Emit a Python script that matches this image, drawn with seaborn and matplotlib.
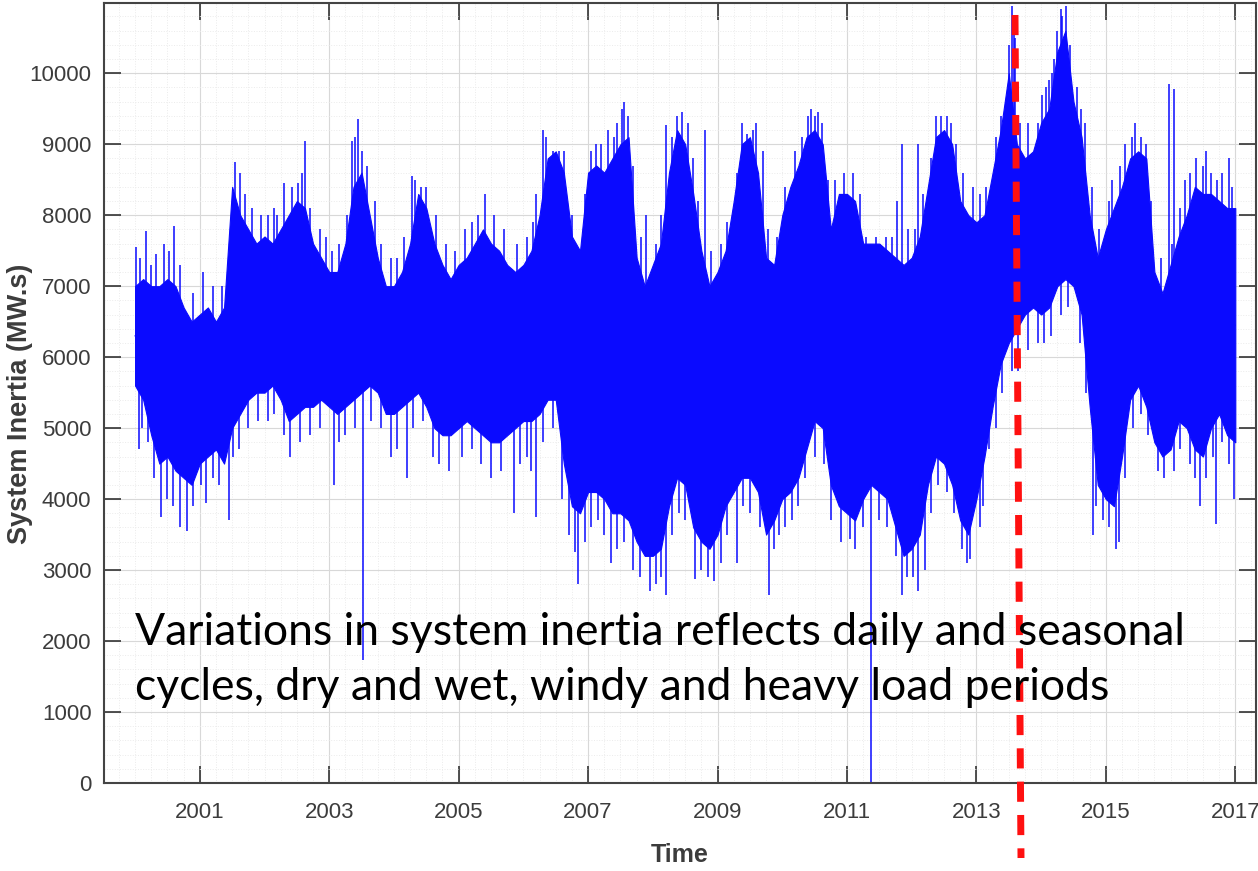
import numpy as np
import pandas as pd
import seaborn as sns
import matplotlib.pyplot as plt
from matplotlib import font_manager
from matplotlib.lines import Line2D

# envelope of the hourly series, read every 1/8 year (MW.s)
years = np.arange(2000, 2017.001, 0.125)
core_hi = [
    7000, 7100, 7000, 7000, 7100, 7000, 6700, 6500,   # 2000
    6600, 6700, 6500, 6700, 8400, 8000, 7800, 7600,   # 2001
    7700, 7600, 7800, 8000, 8200, 8100, 7600, 7400,   # 2002
    7200, 7200, 7600, 8400, 8600, 8000, 7400, 7000,   # 2003
    7000, 7200, 7600, 8300, 8100, 7600, 7300, 7100,   # 2004
    7300, 7400, 7600, 7800, 7600, 7500, 7300, 7200,   # 2005
    7300, 7500, 8000, 8800, 8900, 8600, 7700, 7500,   # 2006
    8600, 8700, 8600, 8800, 9000, 9100, 7400, 7000,   # 2007
    7300, 7600, 8600, 9200, 9000, 8300, 7500, 7000,   # 2008
    7200, 7500, 8200, 9000, 9100, 8600, 7400, 7300,   # 2009
    8000, 8400, 8700, 9100, 9200, 9000, 7800, 8300,   # 2010
    8300, 8200, 7600, 7600, 7600, 7500, 7400, 7300,   # 2011
    7400, 7700, 8400, 9100, 9200, 9000, 8200, 8000,   # 2012
    7900, 8000, 8600, 9200, 10000, 9000, 8800, 8900,  # 2013
    9300, 9500, 10300, 10600, 9600, 9100, 8000, 7400, # 2014
    7800, 8100, 8400, 8800, 8900, 8800, 7200, 6900,   # 2015
    7300, 7700, 8000, 8400, 8300, 8300, 8200, 8100,   # 2016
    8100,                                             # 2017
]
core_lo = [
    5600, 5400, 4900, 4500, 4600, 4400, 4300, 4200,
    4500, 4600, 4700, 4500, 5000, 5200, 5400, 5500,
    5500, 5600, 5400, 5100, 5200, 5300, 5300, 5400,
    5300, 5200, 5300, 5400, 5500, 5600, 5500, 5200,
    5200, 5300, 5400, 5500, 5300, 5000, 4900, 4900,
    5000, 5100, 5000, 4900, 4800, 4800, 4900, 5000,
    5100, 5100, 5200, 5400, 5400, 4500, 3900, 3800,
    4100, 4100, 4000, 3800, 3800, 3700, 3400, 3200,
    3200, 3300, 3900, 4300, 4200, 3600, 3400, 3300,
    3500, 3900, 4100, 4300, 4300, 4100, 3500, 3700,
    4000, 4100, 4300, 4700, 5100, 5000, 4200, 3900,
    3800, 3700, 4000, 4200, 4100, 4000, 3600, 3200,
    3300, 3500, 4200, 4600, 4500, 4200, 3700, 3500,
    4000, 4600, 5300, 5900, 6200, 6400, 6600, 6700,
    6600, 6700, 7000, 7100, 7000, 6600, 5300, 4200,
    4000, 3900, 4600, 5400, 5600, 5300, 4800, 4600,
    4700, 5100, 5000, 4700, 4600, 5000, 5200, 4900,
    4800,
]

# single hours sticking out above the band
spike_up_x = [
    2000.02, 2000.08, 2000.17, 2000.25, 2000.33, 2000.45, 2000.52, 2000.6, 2000.7, 2000.9,
    2001.05, 2001.2, 2001.35, 2001.48, 2001.55, 2001.62, 2001.7, 2001.8, 2001.95,
    2002.05, 2002.15, 2002.2, 2002.3, 2002.42, 2002.52, 2002.58, 2002.63, 2002.7, 2002.85, 2002.95,
    2003.05, 2003.15, 2003.28, 2003.35, 2003.4, 2003.45, 2003.5, 2003.58, 2003.7, 2003.8, 2003.95,
    2004.05, 2004.15, 2004.28, 2004.33, 2004.42, 2004.5, 2004.65, 2004.8, 2004.95,
    2005.1, 2005.2, 2005.3, 2005.4, 2005.55, 2005.7, 2005.9,
    2006.05, 2006.15, 2006.2, 2006.3, 2006.35, 2006.45, 2006.55, 2006.62, 2006.75, 2006.95,
    2007.05, 2007.12, 2007.2, 2007.3, 2007.4, 2007.45, 2007.52, 2007.55, 2007.62, 2007.7, 2007.82, 2007.9,
    2008.05, 2008.12, 2008.2, 2008.3, 2008.38, 2008.45, 2008.55, 2008.62, 2008.7, 2008.8, 2008.9,
    2009.05, 2009.15, 2009.3, 2009.38, 2009.45, 2009.55, 2009.6, 2009.7, 2009.78, 2009.92,
    2010.05, 2010.2, 2010.3, 2010.4, 2010.45, 2010.5, 2010.55, 2010.62, 2010.7, 2010.82, 2010.95,
    2011.1, 2011.2, 2011.3, 2011.45, 2011.6, 2011.7, 2011.78, 2011.85, 2011.95,
    2012.05, 2012.1, 2012.18, 2012.3, 2012.38, 2012.45, 2012.55, 2012.6, 2012.68, 2012.8, 2012.95,
    2013.05, 2013.15, 2013.3, 2013.38, 2013.45, 2013.5, 2013.55, 2013.58, 2013.6, 2013.68, 2013.8, 2013.95,
    2014.02, 2014.07, 2014.12, 2014.17, 2014.2, 2014.25, 2014.3, 2014.33, 2014.38, 2014.45, 2014.55,
    2014.62, 2014.68, 2014.78, 2014.9,
    2015.05, 2015.1, 2015.22, 2015.3, 2015.4, 2015.45, 2015.55, 2015.62, 2015.7, 2015.85, 2015.98,
    2016.02, 2016.05, 2016.15, 2016.22, 2016.3, 2016.4, 2016.5, 2016.55, 2016.62, 2016.72, 2016.8,
    2016.9, 2016.95,
]
spike_up_y = [
    7550, 7400, 7780, 7300, 7450, 7600, 7500, 7850, 7300, 6900,
    7200, 7000, 7000, 7300, 8750, 8600, 8300, 8100, 8000,
    8000, 8100, 8000, 8450, 8400, 8450, 8600, 9050, 8100, 7800, 7700,
    7500, 7600, 8000, 9050, 9100, 9350, 8900, 8700, 8200, 7600, 7400,
    7400, 7700, 8550, 8500, 8400, 8400, 8000, 7600, 7500,
    7800, 7900, 8000, 8300, 8000, 7800, 7600,
    7700, 7900, 8300, 9200, 9100, 8900, 8900, 8900, 8000, 8300,
    8900, 9000, 9000, 9200, 9100, 9300, 9500, 9600, 9400, 8700, 7700, 8000,
    7600, 8000, 9270, 9100, 9400, 9450, 9300, 8800, 8200, 9200, 7500,
    7600, 7900, 8600, 9300, 9150, 9200, 9300, 8900, 7800, 7700,
    8400, 8900, 9100, 9400, 9500, 9400, 9450, 9300, 8500, 8500, 8600,
    8600, 8300, 7700, 7700, 7700, 7700, 8200, 9000, 7800,
    7800, 9000, 8300, 8800, 9400, 9400, 9400, 9300, 9000, 8600, 8400,
    8300, 8400, 9100, 9400, 9600, 10400, 10950, 10700, 10500, 9300, 9300, 9300,
    9700, 9800, 9900, 10000, 10200, 10600, 10900, 10800, 10950, 10400, 9800,
    9500, 9300, 8400, 7800,
    8200, 8500, 8700, 9000, 9100, 9300, 9100, 9000, 8200, 7400, 9850,
    7600, 9780, 8100, 8500, 8600, 8800, 8700, 8900, 8600, 8500, 8600,
    8800, 8400,
]
# single hours dropping below the band
spike_dn_x = [
    2000.06, 2000.1, 2000.2, 2000.3, 2000.4, 2000.5, 2000.58, 2000.7, 2000.8, 2000.9,
    2001.02, 2001.1, 2001.2, 2001.3, 2001.45, 2001.52, 2001.6, 2001.75, 2001.9,
    2002.05, 2002.15, 2002.3, 2002.4, 2002.55, 2002.7, 2002.85,
    2003.08, 2003.15, 2003.25, 2003.4, 2003.52, 2003.65, 2003.8, 2003.95,
    2004.05, 2004.2, 2004.3, 2004.45, 2004.6, 2004.7, 2004.85,
    2005.05, 2005.2, 2005.35, 2005.5, 2005.65, 2005.85, 2005.95,
    2006.05, 2006.12, 2006.2, 2006.3, 2006.45, 2006.6, 2006.7, 2006.8, 2006.85, 2006.95,
    2007.05, 2007.15, 2007.25, 2007.35, 2007.45, 2007.55, 2007.7, 2007.8, 2007.95,
    2008.05, 2008.12, 2008.2, 2008.3, 2008.4, 2008.5, 2008.65, 2008.75, 2008.85, 2008.95,
    2009.05, 2009.15, 2009.3, 2009.4, 2009.5, 2009.65, 2009.8, 2009.88, 2009.95,
    2010.05, 2010.15, 2010.25, 2010.35, 2010.5, 2010.65, 2010.75, 2010.9,
    2011.05, 2011.12, 2011.25, 2011.37, 2011.5, 2011.62, 2011.75, 2011.85, 2011.92,
    2012.02, 2012.1, 2012.2, 2012.3, 2012.4, 2012.55, 2012.65, 2012.78, 2012.85, 2012.9,
    2013.05, 2013.1, 2013.2, 2013.3, 2013.4, 2013.55, 2013.65, 2013.8, 2013.95,
    2014.05, 2014.15, 2014.3, 2014.42, 2014.6, 2014.7, 2014.8, 2014.85, 2014.95,
    2015.05, 2015.15, 2015.2, 2015.3, 2015.42, 2015.55, 2015.65, 2015.8, 2015.9,
    2016.05, 2016.15, 2016.3, 2016.38, 2016.45, 2016.55, 2016.65, 2016.7, 2016.8, 2016.9, 2016.98,
]
spike_dn_y = [
    4700, 5000, 4800, 4300, 3750, 4000, 3900, 3600, 3550, 3900,
    4200, 3950, 4300, 4200, 3700, 4600, 4700, 5000, 5100,
    5100, 5200, 4900, 4600, 4800, 4900, 5000,
    4200, 4800, 4900, 5000, 1730, 5100, 5000, 4600,
    4700, 4300, 5000, 5100, 4600, 4500, 4400,
    4600, 4700, 4500, 4300, 4400, 3800, 4500,
    4600, 4400, 3750, 4800, 5000, 4000, 3500, 3250, 2800, 3400,
    3600, 3700, 3500, 3100, 3300, 3400, 3000, 2900, 2700,
    2800, 2900, 2650, 3500, 3800, 3700, 2880, 3000, 2900, 2850,
    3100, 3500, 3100, 3900, 3800, 3600, 2650, 3300, 3500,
    3600, 3700, 3900, 4300, 4600, 4500, 3700, 3400,
    3440, 3300, 3600, 0, 3700, 3600, 3200, 2650, 2900,
    2900, 2700, 3000, 3800, 4200, 4100, 3800, 3300, 3100, 3150,
    3600, 3900, 4700, 5000, 5500, 5800, 5800, 6100, 6200,
    6200, 6300, 6600, 6700, 6200, 5500, 3500, 3900, 3700,
    3600, 3300, 3400, 4300, 5000, 5200, 4900, 4400, 4300,
    4400, 4700, 4500, 4300, 3900, 4300, 4600, 3650, 4800, 4500, 4000,
]

x_ticks = [2001, 2003, 2005, 2007, 2009, 2011, 2013, 2015, 2017]
y_ticks = list(range(0, 10001, 1000))

blue = '#0a0aff'
names = {f.name for f in font_manager.fontManager.ttflist}
narrow = 'Liberation Sans Narrow' if 'Liberation Sans Narrow' in names else 'Liberation Sans'

sns.set_theme(style='ticks')
plt.rcParams['font.family'] = ['Liberation Sans', 'DejaVu Sans']

fig = plt.figure(figsize=(12.58, 8.71), dpi=100)
fig.patch.set_facecolor('white')
ax = fig.add_axes([104 / 1258, 1 - 783 / 871, 1152 / 1258, 780 / 871])

df = pd.DataFrame({'year': np.concatenate([years, years]),
                   'inertia': np.concatenate([core_lo, core_hi])})
sns.lineplot(data=df, x='year', y='inertia', estimator='mean', errorbar=('pi', 100),
             color=blue, lw=1, err_kws={'alpha': 1, 'lw': 0.8, 'edgecolor': blue}, ax=ax)

# spikes start from the middle of the band so they join it
mid = (np.array(core_hi) + np.array(core_lo)) / 2
ax.vlines(spike_up_x, np.interp(spike_up_x, years, mid), spike_up_y, color=blue, lw=1.1)
ax.vlines(spike_dn_x, spike_dn_y, np.interp(spike_dn_x, years, mid), color=blue, lw=1.1)

ax.set_xlim(1999.52, 2017.32)
ax.set_ylim(0, 10990)
ax.set_xticks(x_ticks)
ax.set_xticklabels([str(v) for v in x_ticks])
ax.set_yticks(y_ticks)
ax.set_xticks(np.arange(1999.75, 2017.3, 0.25), minor=True)
ax.set_yticks(np.arange(0, 11000, 200), minor=True)
ax.grid(which='major', color='#d8d8d8', lw=0.8)
ax.grid(which='minor', color='#ebebeb', lw=0.7, ls=':')
ax.set_axisbelow(True)
ax.tick_params(which='major', direction='in', length=12, width=1.2, color='#333333',
               top=True, right=True, labelsize=16, labelcolor='#3c3c3c')
ax.tick_params(which='minor', length=0)
ax.tick_params(axis='x', pad=14)
ax.tick_params(axis='y', pad=9)
for lab in ax.get_xticklabels() + ax.get_yticklabels():
    lab.set_fontfamily(narrow)
for s in ax.spines.values():
    s.set_color('#444444')
    s.set_linewidth(1.5)

ax.set_xlabel('Time', fontsize=18, fontweight='bold', color='#3c3c3c', family=narrow, labelpad=14)
ax.set_ylabel('System Inertia (MW.s)', fontsize=19.5, fontweight='bold', color='#3c3c3c')
ax.yaxis.set_label_coords(-0.062, 0.486)

fig.text(135 / 1258, 1 - 612 / 871,
         'Variations in system inertia reflects daily and seasonal\n'
         'cycles, dry and wet, windy and heavy load periods',
         family=['Lato', 'DejaVu Sans'], fontsize=32, color='black', va='top', ha='left',
         linespacing=1.42)

fig.add_artist(Line2D([1015 / 1258, 1021 / 1258], [1 - 15 / 871, 1 - 858 / 871],
                      transform=fig.transFigure, color='#ff1010', lw=5,
                      linestyle=(0, (2.9, 1.9))))

fig.savefig('out.png', dpi=100)
